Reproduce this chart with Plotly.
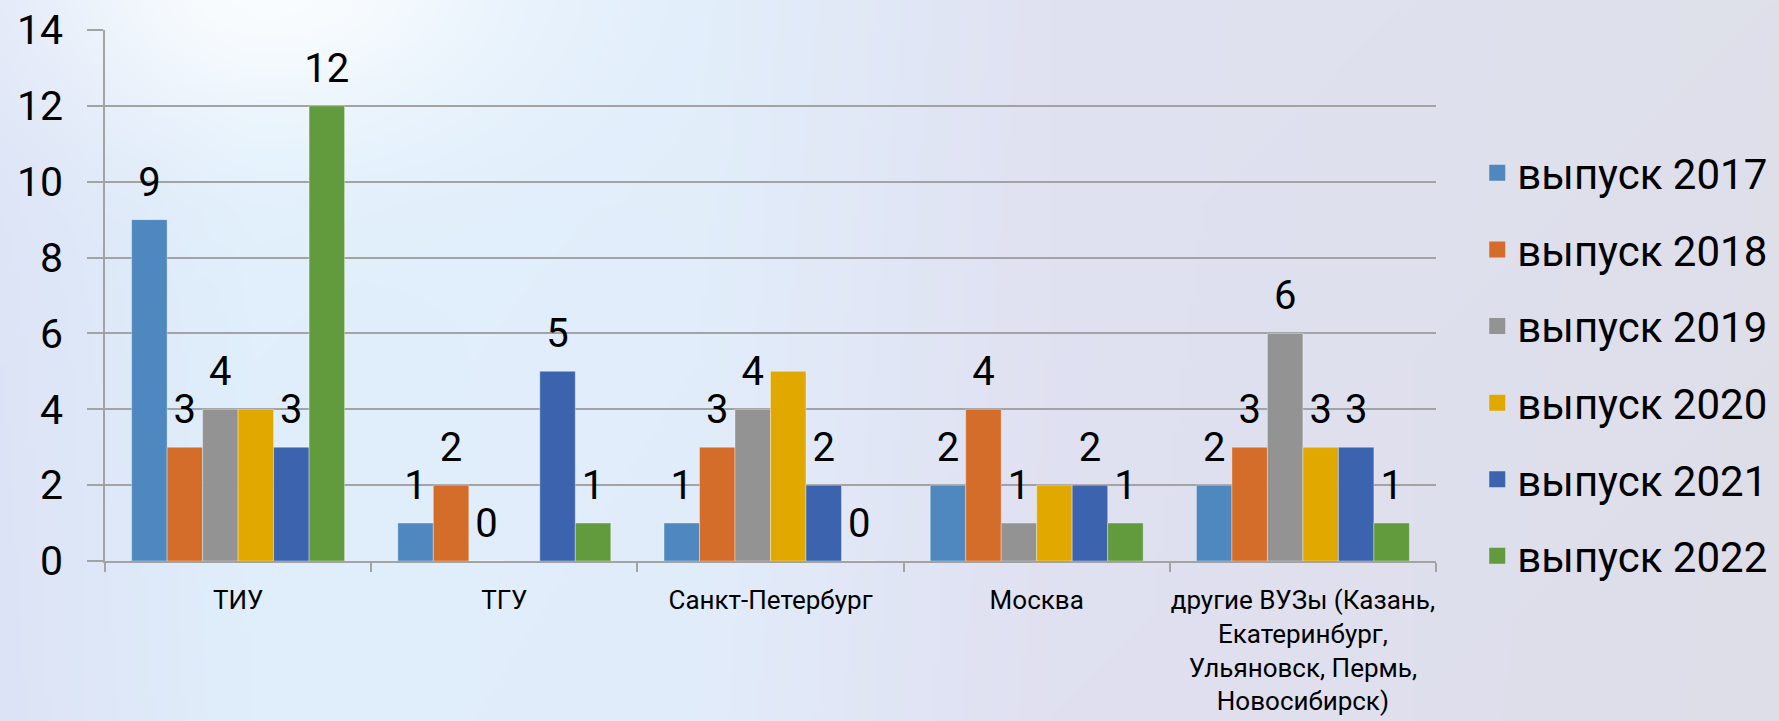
import base64
import struct
import zlib

import numpy as np
import plotly.graph_objects as go

# ---------------- data ----------------
categories = [
    "ТИУ",
    "ТГУ",
    "Санкт-Петербург",
    "Москва",
    "другие ВУЗы (Казань,<br>Екатеринбург,<br>Ульяновск, Пермь,<br>Новосибирск)",
]
series_names = ["выпуск 2017", "выпуск 2018", "выпуск 2019",
                "выпуск 2020", "выпуск 2021", "выпуск 2022"]

v2017 = [9, 1, 1, 2, 2]
v2018 = [3, 2, 3, 4, 3]
v2019 = [4, 0, 4, 1, 6]
v2020 = [4, None, 5, 2, 3]
v2021 = [3, 5, 2, 2, 3]
v2022 = [12, 1, 0, 1, 1]

# data labels as shown (the 2020 series only shows its label in the last group)
lab2017 = ["9", "1", "1", "2", "2"]
lab2018 = ["3", "2", "3", "4", "3"]
lab2019 = ["4", "0", "4", "1", "6"]
lab2020 = ["", "", "", "", "3"]
lab2021 = ["3", "5", "2", "2", "3"]
lab2022 = ["12", "1", "0", "1", "1"]

y_tick_vals = [0, 2, 4, 6, 8, 10, 12, 14]

colors = ["#4E88BE", "#D46C2A", "#939393", "#E1A900", "#3C63AD", "#629A3E"]

values = [v2017, v2018, v2019, v2020, v2021, v2022]
labels = [lab2017, lab2018, lab2019, lab2020, lab2021, lab2022]

FONT = "Roboto"
W, H = 1779, 721


# ---------------- background picture (soft gradient + glow) ----------------
def png_data_uri(arr):
    h, w, _ = arr.shape
    raw = b"".join(b"\x00" + arr[i].tobytes() for i in range(h))

    def chunk(t, d):
        c = struct.pack(">I", len(d)) + t + d
        return c + struct.pack(">I", zlib.crc32(t + d) & 0xFFFFFFFF)

    png = (b"\x89PNG\r\n\x1a\n"
           + chunk(b"IHDR", struct.pack(">IIBBBBB", w, h, 8, 2, 0, 0, 0))
           + chunk(b"IDAT", zlib.compress(raw, 9))
           + chunk(b"IEND", b""))
    return "data:image/png;base64," + base64.b64encode(png).decode()


bw, bh = 445, 181
xs = np.linspace(0, W, bw)[None, :]
ys = np.linspace(0, H, bh)[:, None]
stops_x = [0, 250, 700, 1050, 1779]
stops_c = np.array([[221, 229, 247], [224, 240, 252], [226, 238, 251],
                    [224, 226, 242], [222, 224, 234]], float)
base = np.stack([np.interp(xs[0], stops_x, stops_c[:, k]) for k in range(3)], -1)
img = np.repeat(base[None, :, :], bh, axis=0)
img = img + (ys[..., None] / H) * np.array([0, -2, -1])
g = np.exp(-(((xs - 270) ** 2) / (2 * 170 ** 2) + ((ys + 20) ** 2) / (2 * 110 ** 2)))
img = img + (255 - img) * (0.85 * g)[..., None]
img = np.clip(img, 0, 255).astype(np.uint8)
bg_uri = png_data_uri(img)

# ---------------- figure ----------------
fig = go.Figure()

for name, vals, col in zip(series_names, values, colors):
    fig.add_trace(go.Bar(
        x=categories, y=vals, name=name,
        marker=dict(color=col, line=dict(color="rgba(255,255,255,0.35)", width=1)),
        showlegend=False, hoverinfo="x+y+name",
    ))

for name, vals, labs in zip(series_names, values, labels):
    fig.add_trace(go.Scatter(
        x=categories, y=vals, text=labs, mode="markers+text",
        orientation="v",
        marker=dict(size=21, color="rgba(0,0,0,0)"),
        textposition="top center",
        textfont=dict(family=FONT, size=40, color="#000000"),
        showlegend=False, hoverinfo="skip", cliponaxis=False,
    ))

# legend entries (on a hidden axis pair so they do not affect grouping)
for name, col in zip(series_names, colors):
    fig.add_trace(go.Scatter(
        x=[None], y=[None], mode="markers", name=name,
        marker=dict(symbol="square", size=27, color=col),
        xaxis="x2", yaxis="y2", legendgroup=name,
    ))

grid_col = "#A3A3A3"

fig.update_layout(
    width=W, height=H,
    margin=dict(l=105, r=343, t=30, b=160, autoexpand=False),
    paper_bgcolor="#E1E8F6",
    plot_bgcolor="rgba(0,0,0,0)",
    barmode="group", bargap=0.2, bargroupgap=0,
    scattermode="group", scattergap=0.2,
    font=dict(family=FONT, color="#000000"),
    xaxis=dict(
        type="category", showline=True, linecolor=grid_col, linewidth=1.5,
        ticks="outside", tickson="boundaries", ticklen=9, tickwidth=1.5,
        tickcolor=grid_col, showgrid=False, tickangle=0,
        tickfont=dict(family=FONT, size=26, color="#000000"),
        ticklabelstandoff=15,
    ),
    yaxis=dict(
        range=[0, 14], tickmode="array", tickvals=y_tick_vals,
        showgrid=True, gridcolor=grid_col, gridwidth=1.5,
        showline=True, linecolor=grid_col, linewidth=1.5,
        ticks="outside", ticklen=16, tickwidth=1.5, tickcolor=grid_col,
        zeroline=False,
        tickfont=dict(family=FONT, size=41, color="#000000"),
        ticklabelstandoff=16,
    ),
    xaxis2=dict(visible=False, overlaying="x", range=[0, 1]),
    yaxis2=dict(visible=False, overlaying="y", range=[0, 1]),
    legend=dict(
        x=1.031, xanchor="left", y=0.37, yanchor="middle",
        font=dict(family=FONT, size=42, color="#000000"),
        bgcolor="rgba(0,0,0,0)", tracegroupgap=19, itemsizing="trace",
    ),
    images=[dict(
        source=bg_uri, xref="paper", yref="paper",
        x=-105 / 1331, y=1 + 30 / 531, sizex=W / 1331, sizey=H / 531,
        xanchor="left", yanchor="top", sizing="stretch", layer="below",
    )],
)

fig.write_html("out.html", config={"displayModeBar": False},
               post_script="document.body.style.margin='0';")
